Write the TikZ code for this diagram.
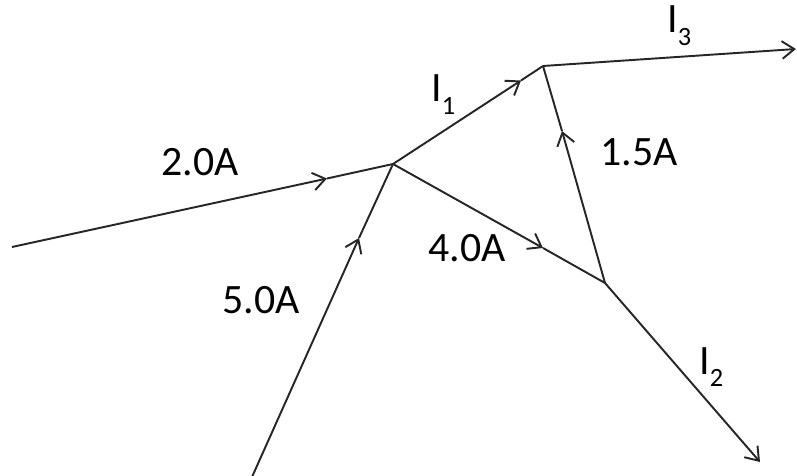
\documentclass[tikz,border=0pt]{standalone}
\usepackage{fontspec}
\setmainfont{Carlito}
\usetikzlibrary{arrows.meta}
\newcommand{\Isub}[1]{I\raisebox{-0.29em}{\fontsize{15}{15}\selectfont #1}}
\begin{document}
\begin{tikzpicture}[x=0.02cm,y=-0.02cm,
  wire/.style={line width=1.1pt,draw=black!85},
  tip/.style={wire,-{Straight Barb[length=7pt,width=10pt,line width=1.1pt]}},
  lbl/.style={anchor=base west,inner sep=0pt,font=\fontsize{23.8}{28}\selectfont}]
\useasboundingbox (0,0) rectangle (797,476);
% junctions and ends
\coordinate (L) at (12,247);
\coordinate (A) at (393,164);
\coordinate (S) at (252,477);
\coordinate (B) at (543,66);
\coordinate (R) at (796,49);
\coordinate (C) at (605,283);
\coordinate (D) at (760,462);
% mid arrow points
\coordinate (m1) at (327,178.5);
\coordinate (m2) at (359,238);
\coordinate (m3) at (521,80.5);
\coordinate (m4) at (543,248);
\coordinate (m5) at (562,131);
% wires
\draw[tip] (L) -- (m1);
\draw[wire] (m1) -- (A);
\draw[tip] (S) -- (m2);
\draw[wire] (m2) -- (A);
\draw[tip] (A) -- (m3);
\draw[wire] (m3) -- (B);
\draw[tip] (A) -- (m4);
\draw[wire] (m4) -- (C);
\draw[tip] (C) -- (m5);
\draw[wire] (m5) -- (B);
\draw[tip] (B) -- (R);
\draw[tip] (C) -- (D);
% labels
\node[lbl] (l20) at (161,175) {2.0A};
\node[lbl] (l40) at (428,261) {4.0A};
\node[lbl] (l15) at (600,166) {1.5A};
\node[lbl] (l50) at (222,313) {5.0A};
\node[lbl] (i1) at (431,102) {\Isub{1}};
\node[lbl] (i3) at (667,33) {\Isub{3}};
\node[lbl] (i2) at (699,374) {\Isub{2}};
\end{tikzpicture}
\end{document}
